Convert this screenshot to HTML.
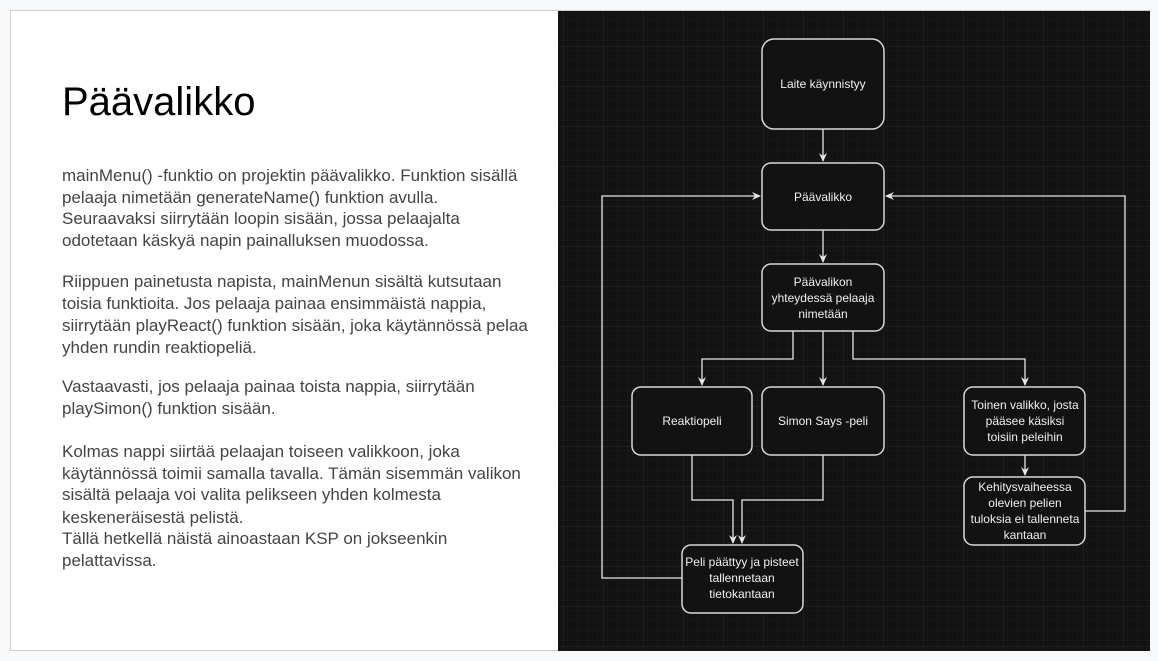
<!DOCTYPE html>
<html><head><meta charset="utf-8"><style>
html,body{margin:0;padding:0;}
body{width:1158px;height:661px;background:#f8f9fa;position:relative;overflow:hidden;font-family:"Liberation Sans",Arial,sans-serif;}
#slide{position:absolute;left:10px;top:10px;width:1140px;height:641px;background:#fff;border:1px solid #d0d0d0;box-sizing:border-box;}
.t{position:absolute;left:62px;font-size:17px;line-height:22px;color:#444;white-space:nowrap;}
h1{position:absolute;left:62px;top:80px;margin:0;font-weight:normal;font-size:40px;color:#000;}
svg{position:absolute;left:558px;top:11px;}
</style></head><body>
<div id="slide"></div>
<h1>Päävalikko</h1>
<div class="t" style="top:165px">mainMenu() -funktio on projektin päävalikko. Funktion sisällä</div>
<div class="t" style="top:187px">pelaaja nimetään generateName() funktion avulla.</div>
<div class="t" style="top:208px">Seuraavaksi siirrytään loopin sisään, jossa pelaajalta</div>
<div class="t" style="top:230px">odotetaan käskyä napin painalluksen muodossa.</div>
<div class="t" style="top:271px">Riippuen painetusta napista, mainMenun sisältä kutsutaan</div>
<div class="t" style="top:293px">toisia funktioita. Jos pelaaja painaa ensimmäistä nappia,</div>
<div class="t" style="top:315px">siirrytään playReact() funktion sisään, joka käytännössä pelaa</div>
<div class="t" style="top:337px">yhden rundin reaktiopeliä.</div>
<div class="t" style="top:376px">Vastaavasti, jos pelaaja painaa toista nappia, siirrytään</div>
<div class="t" style="top:398px">playSimon() funktion sisään.</div>
<div class="t" style="top:441px">Kolmas nappi siirtää pelaajan toiseen valikkoon, joka</div>
<div class="t" style="top:463px">käytännössä toimii samalla tavalla. Tämän sisemmän valikon</div>
<div class="t" style="top:484px">sisältä pelaaja voi valita pelikseen yhden kolmesta</div>
<div class="t" style="top:507px">keskeneräisestä pelistä.</div>
<div class="t" style="top:528px">Tällä hetkellä näistä ainoastaan KSP on jokseenkin</div>
<div class="t" style="top:550px">pelattavissa.</div>

<svg width="592" height="640" viewBox="558 11 592 640" xmlns="http://www.w3.org/2000/svg">
<defs>
<pattern id="g1" x="558" y="11" width="10" height="10" patternUnits="userSpaceOnUse"><path d="M10 0V10M0 10H10" stroke="#1c1c1c" stroke-width="1" fill="none"/></pattern>
<pattern id="g2" x="563" y="6" width="40" height="40" patternUnits="userSpaceOnUse"><path d="M0 0V40M0 0H40" stroke="#2b2b2b" stroke-width="1" fill="none"/></pattern>
<marker id="a" markerWidth="10" markerHeight="10" refX="8" refY="5" orient="auto" markerUnits="userSpaceOnUse"><path d="M0 1L9 5L0 9L3 5Z" fill="#e6e6e6"/></marker>
</defs>
<rect x="558" y="11" width="592" height="640" fill="#121212"/>
<rect x="558" y="11" width="592" height="640" fill="url(#g1)"/>
<rect x="558" y="11" width="592" height="640" fill="url(#g2)"/>
<g stroke="#e6e6e6" stroke-width="1.3" fill="none">
<path d="M823 129V161" marker-end="url(#a)"/>
<path d="M823 230V262" marker-end="url(#a)"/>
<path d="M793 331V359H702V385" marker-end="url(#a)"/>
<path d="M823 331V385" marker-end="url(#a)"/>
<path d="M853 331V359H1025V385" marker-end="url(#a)"/>
<path d="M1025 455V475" marker-end="url(#a)"/>
<path d="M692 455V500H733V543" marker-end="url(#a)"/>
<path d="M823 455V500H742V543" marker-end="url(#a)"/>
<path d="M682 578H602V196H760" marker-end="url(#a)"/>
<path d="M1085 511H1125V196H886" marker-end="url(#a)"/>
</g>
<g stroke="#d8d8d8" stroke-width="1.5" fill="#121212">
<rect x="762" y="39" width="122" height="90" rx="12"/>
<rect x="762" y="163" width="122" height="67" rx="9"/>
<rect x="762" y="264" width="122" height="67" rx="9"/>
<rect x="632" y="387" width="120" height="68" rx="9"/>
<rect x="762" y="387" width="122" height="68" rx="9"/>
<rect x="964" y="387" width="121" height="68" rx="9"/>
<rect x="964" y="477" width="121" height="68" rx="9"/>
<rect x="682" y="545" width="121" height="68" rx="9"/>
</g>
<g fill="#f0f0f0" font-family="Liberation Sans, Arial, sans-serif" font-size="12" text-anchor="middle">
<text x="823" y="88">Laite käynnistyy</text>
<text x="823" y="201">Päävalikko</text>
<text x="823" y="286">Päävalikon</text>
<text x="823" y="302">yhteydessä pelaaja</text>
<text x="823" y="318">nimetään</text>
<text x="692" y="425">Reaktiopeli</text>
<text x="823" y="425">Simon Says -peli</text>
<text x="1025" y="409">Toinen valikko, josta</text>
<text x="1025" y="425">pääsee käsiksi</text>
<text x="1025" y="441">toisiin peleihin</text>
<text x="1025" y="491">Kehitysvaiheessa</text>
<text x="1025" y="507">olevien pelien</text>
<text x="1025" y="523">tuloksia ei tallenneta</text>
<text x="1025" y="539">kantaan</text>
<text x="742" y="566">Peli päättyy ja pisteet</text>
<text x="742" y="582">tallennetaan</text>
<text x="742" y="598">tietokantaan</text>
</g>
</svg>
</body></html>
